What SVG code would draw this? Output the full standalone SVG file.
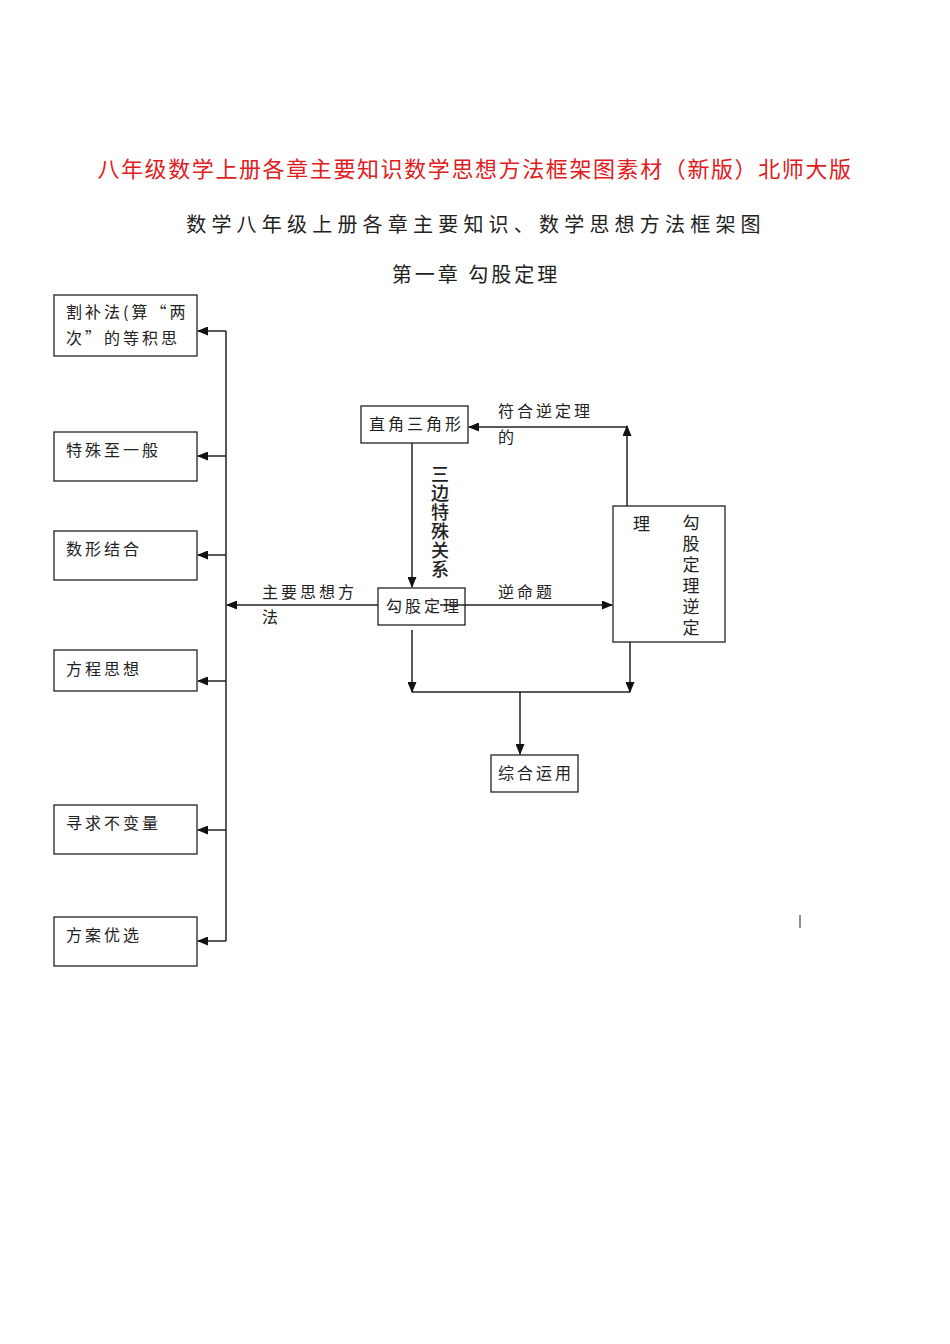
<svg xmlns="http://www.w3.org/2000/svg" width="950" height="1344" viewBox="0 0 950 1344">
<style>
text{font-family:"Noto Sans CJK SC","Liberation Sans",sans-serif;fill:#222}
.b{fill:#fff;stroke:#222;stroke-width:1.3}
.l{stroke:#222;stroke-width:1.5;fill:none}
.t{font-size:16px;letter-spacing:3px}
</style>
<defs><marker id="a" markerWidth="11" markerHeight="9" refX="10" refY="4.5" orient="auto" markerUnits="userSpaceOnUse"><path d="M0,0L11,4.5L0,9z" fill="#111"/></marker></defs>
<rect width="950" height="1344" fill="#fff"/>
<text x="475" y="177" font-size="22" text-anchor="middle" letter-spacing="1.6" style="fill:#e02020">八年级数学上册各章主要知识数学思想方法框架图素材（新版）北师大版</text>
<text x="476" y="232" font-size="20" text-anchor="middle" letter-spacing="5.2">数学八年级上册各章主要知识、数学思想方法框架图</text>
<text x="476" y="282" font-size="20" text-anchor="middle" letter-spacing="3">第一章  勾股定理</text>
<g id="n1"><rect class="b" x="54" y="295" width="143" height="61"/><text class="t" x="66" y="318">割补法(算“两</text><text class="t" x="66" y="344">次”的等积思</text></g>
<g id="n2"><rect class="b" x="54" y="432" width="143" height="49"/><text class="t" x="66" y="456">特殊至一般</text></g>
<g id="n3"><rect class="b" x="54" y="531" width="143" height="49"/><text class="t" x="66" y="555">数形结合</text></g>
<g id="n4"><rect class="b" x="54" y="650" width="143" height="41"/><text class="t" x="66" y="675">方程思想</text></g>
<g id="n5"><rect class="b" x="54" y="805" width="143" height="49"/><text class="t" x="66" y="829">寻求不变量</text></g>
<g id="n6"><rect class="b" x="54" y="917" width="143" height="49"/><text class="t" x="66" y="941">方案优选</text></g>
<g id="n7"><rect class="b" x="361" y="406" width="107" height="37"/><text class="t" x="369" y="430">直角三角形</text></g>
<g id="n8"><rect class="b" x="378" y="588" width="87" height="37"/><text class="t" x="386" y="612">勾股定理</text></g>
<g id="n9"><rect class="b" x="613" y="506" width="112" height="136"/><text x="633" y="530" font-size="17">理</text><text x="691" y="514" font-size="17" writing-mode="vertical-rl" letter-spacing="4">勾股定理逆定</text></g>
<g id="n10"><rect class="b" x="491" y="755" width="87" height="37"/><text class="t" x="498" y="779">综合运用</text></g>
<g id="edges">
<path class="l" d="M226 331V941"/>
<path class="l" marker-end="url(#a)" d="M226 331H198"/>
<path class="l" marker-end="url(#a)" d="M226 456H198"/>
<path class="l" marker-end="url(#a)" d="M226 555H198"/>
<path class="l" marker-end="url(#a)" d="M226 681H198"/>
<path class="l" marker-end="url(#a)" d="M226 830H198"/>
<path class="l" marker-end="url(#a)" d="M226 941H198"/>
<path class="l" marker-end="url(#a)" d="M378 605H227"/>
<path class="l" marker-end="url(#a)" d="M412 443V587"/>
<path class="l" marker-end="url(#a)" d="M440 605H612"/>
<path class="l" marker-end="url(#a)" d="M627 506V426"/>
<path class="l" marker-end="url(#a)" d="M627 427H469"/>
<path class="l" marker-end="url(#a)" d="M412 630V692"/>
<path class="l" marker-end="url(#a)" d="M630 642V692"/>
<path class="l" d="M412 692H630"/>
<path class="l" marker-end="url(#a)" d="M520 692V754"/>
<text class="t" x="262" y="598">主要思想方</text><text class="t" x="262" y="623">法</text>
<text class="t" x="498" y="598">逆命题</text>
<text class="t" x="498" y="417">符合逆定理</text><text class="t" x="498" y="443">的</text>
<text x="440" y="465" font-size="18" font-weight="500" writing-mode="vertical-rl" letter-spacing="1">三边特殊关系</text>
</g>
<path d="M800 915V928" stroke="#222" stroke-width="1"/>
</svg>
